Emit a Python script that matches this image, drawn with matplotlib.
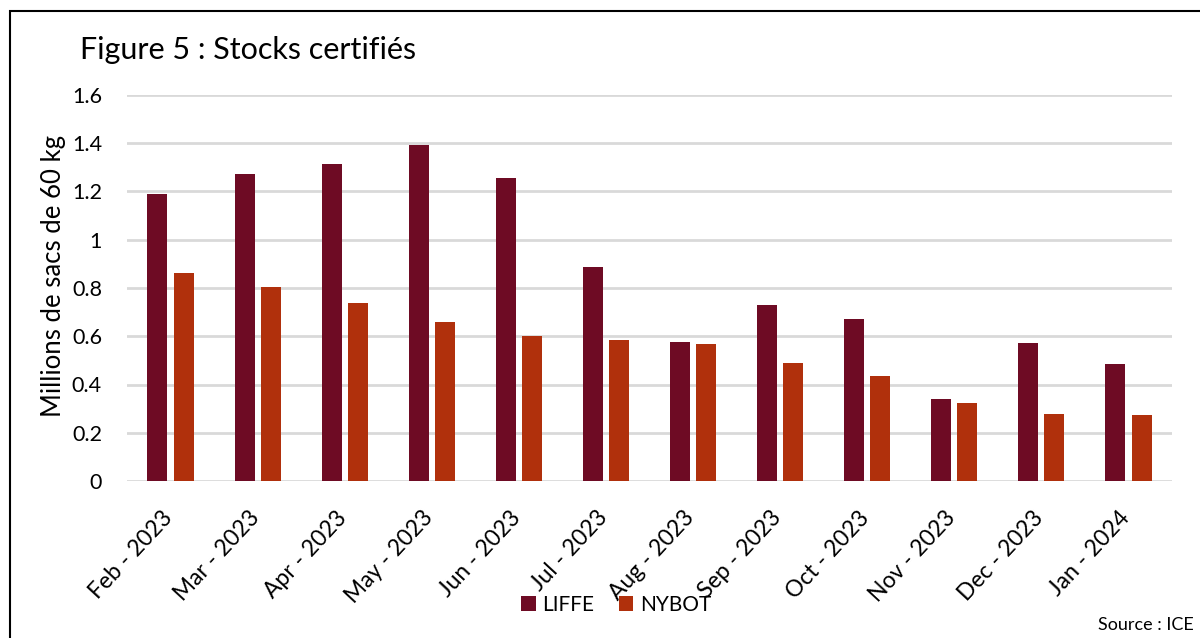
import numpy as np
import matplotlib.pyplot as plt
import matplotlib.transforms as mtransforms
from matplotlib.patches import Rectangle

months = ['Feb - 2023', 'Mar - 2023', 'Apr - 2023', 'May - 2023', 'Jun - 2023', 'Jul - 2023',
          'Aug - 2023', 'Sep - 2023', 'Oct - 2023', 'Nov - 2023', 'Dec - 2023', 'Jan - 2024']
liffe = [1.19, 1.273, 1.314, 1.393, 1.256, 0.887, 0.576, 0.73, 0.672, 0.34, 0.572, 0.485]
nybot = [0.862, 0.804, 0.738, 0.659, 0.601, 0.584, 0.568, 0.489, 0.435, 0.323, 0.278, 0.274]

plt.rcParams['font.family'] = ['Lato', 'DejaVu Sans']

fig = plt.figure(figsize=(12, 6.38), dpi=100)
ax = fig.add_axes([127 / 1200, 1 - 481 / 638, 1045 / 1200, 386 / 638])

x = np.arange(len(months))
ax.bar(x - 0.15, liffe, width=0.23, color='#6e0b24', label='LIFFE', zorder=3)
ax.bar(x + 0.15, nybot, width=0.23, color='#b0300c', label='NYBOT', zorder=3)

ax.set_xlim(-0.5, len(months) - 0.5)
ax.set_ylim(0, 1.6)
ax.set_yticks(np.arange(0, 1.61, 0.2))
ax.set_yticklabels(['0', '0.2', '0.4', '0.6', '0.8', '1', '1.2', '1.4', '1.6'])
ax.yaxis.grid(True, color='#d9d9d9', linewidth=2, zorder=0)
ax.set_axisbelow(True)
for s in ax.spines.values():
    s.set_visible(False)
ax.tick_params(axis='both', length=0, labelsize=15.5, colors='black')
ax.tick_params(axis='y', pad=18)
ax.set_xticks(x)
ax.set_xticklabels(months, rotation=47, ha='right', va='center', rotation_mode='anchor', fontsize=16.5)
ax.tick_params(axis='x', pad=24)
shift = mtransforms.ScaledTranslation(-2 / 100, 0, fig.dpi_scale_trans)
for lbl in ax.get_xticklabels():
    lbl.set_transform(lbl.get_transform() + shift)

ax.set_ylabel('Millions de sacs de 60 kg', fontsize=18.5, labelpad=4)
ax.yaxis.label.set_y(0.53)

fig.text(80 / 1200, 1 - 50 / 638, 'Figure 5 : Stocks certifiés', fontsize=22, va='center', ha='left')

ax.legend(loc='center', bbox_to_anchor=(616 / 1200, 1 - 605 / 638), bbox_transform=fig.transFigure,
          ncol=2, frameon=False, fontsize=15, handlelength=0.7, handleheight=0.7,
          columnspacing=1.2, handletextpad=0.3)

fig.text(1098 / 1200, 1 - 625 / 638, 'Source : ICE', fontsize=13, va='center', ha='left')

fig.patches.append(Rectangle((10 / 1200, -0.05), 1.2, 1 - 11 / 638 + 0.05, transform=fig.transFigure,
                             fill=False, edgecolor='black', linewidth=1.5))

fig.savefig('out.png', dpi=100)
